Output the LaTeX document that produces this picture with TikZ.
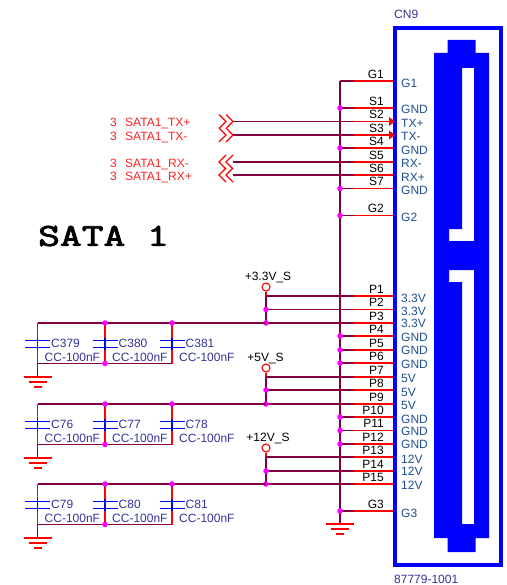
\documentclass[tikz,border=0pt]{standalone}
\usepackage{fontspec}
\setmainfont{Liberation Sans}
\newfontfamily\titlefont{Latin Modern Mono}[FakeBold=2.5]
\definecolor{wirec}{HTML}{800040}
\definecolor{stubc}{HTML}{FF0000}
\definecolor{bluec}{HTML}{0000FF}
\definecolor{dotc}{HTML}{FF00FF}
\definecolor{navyc}{HTML}{333399}
\definecolor{pinc}{HTML}{1F5090}
\definecolor{redt}{HTML}{FF2020}
\tikzset{
  wire/.style={draw=wirec,line width=1.1pt},
  stub/.style={draw=stubc,line width=1.1pt},
  plate/.style={draw=bluec,line width=1.4pt},
  pinname/.style={anchor=west,text=pinc,font=\fontsize{12}{14}\selectfont,inner sep=0pt},
  pinnum/.style={anchor=east,text=black,font=\fontsize{12}{14}\selectfont,inner sep=0pt},
  capname/.style={anchor=west,text=navyc,font=\fontsize{12}{14}\selectfont,inner sep=0pt},
  railname/.style={text=black,font=\fontsize{12}{14}\selectfont,inner sep=0pt},
  sig/.style={anchor=west,text=redt,font=\fontsize{12}{14}\selectfont,inner sep=0pt},
  junction/.style={circle,fill=dotc,inner sep=0pt,minimum size=5.6pt},
  railend/.style={circle,draw=stubc,line width=1.1pt,fill=white,inner sep=0pt,minimum size=8pt},
}
\newcommand{\gndsym}[1]{%
  \draw[stub] ([xshift=-14pt]#1) -- ([xshift=14pt]#1);
  \draw[stub] ([xshift=-9pt,yshift=-5pt]#1) -- ([xshift=9pt,yshift=-5pt]#1);
  \draw[stub] ([xshift=-4pt,yshift=-10pt]#1) -- ([xshift=4pt,yshift=-10pt]#1);
}
\begin{document}
\begin{tikzpicture}[x=1pt,y=-1pt]
\useasboundingbox (0,0) rectangle (506,585);
% connector body
\draw[draw=bluec,line width=4pt,fill=white] (395,28) rectangle (501,565);
\fill[bluec,even odd rule]
  (447.5,40) -- (475.5,40) -- (475.5,53) -- (489,53) -- (489,538) -- (475.5,538) -- (475.5,552) -- (447.5,552) -- (447.5,538) -- (434,538) -- (434,53) -- (447.5,53) -- cycle
  (462,68) -- (474,68) -- (474,241) -- (449,241) -- (449,229) -- (462,229) -- cycle
  (449,270) -- (474,270) -- (474,524) -- (462,524) -- (462,282) -- (449,282) -- cycle;
\node[anchor=west,text=navyc,font=\fontsize{12}{14}\selectfont,inner sep=0pt] (cn) at (394,14) {CN9};
\node[anchor=west,text=navyc,font=\fontsize{12}{14}\selectfont,inner sep=0pt] (pn) at (394,579) {87779-1001};
% bus
\coordinate (bustop) at (340,81);
\coordinate (busgnd) at (340,524);
\draw[wire] (bustop) -- (busgnd);
\gndsym{busgnd}
% pins
\foreach \id/\num/\name/\y/\yl in {
 G1/G1/G1/81/83, S1/S1/GND/108/109, S2/S2/TX+/121.5/123, S3/S3/TX-/135/136, S4/S4/GND/148/150,
 S5/S5/RX-/162/163, S6/S6/RX+/175/177, S7/S7/GND/188.5/190, G2/G2/G2/215.5/217,
 P1/P1/3.3V/296/298, P2/P2/3.3V/309.5/311, P3/P3/3.3V/323/323, P4/P4/GND/336/337.5, P5/P5/GND/350/350.5,
 P6/P6/GND/363/364.5, P7/P7/5V/377/378, P8/P8/5V/390/392, P9/P9/5V/404/405, P10/P10/GND/417/419,
 P11/P11/GND/430.5/431.5, P12/P12/GND/444/444.5, P13/P13/12V/457/459, P14/P14/12V/471/471, P15/P15/12V/484/485, G3/G3/G3/511/513}{
  \coordinate (w\id) at (354,\y);
  \coordinate (e\id) at (393,\y);
  \draw[stub] (w\id) -- (e\id);
  \node[pinnum] (n\id) at (384,\y-7) {\num};
  \node[pinname] (l\id) at (401,\yl) {\name};
}
% ground pins on the bus
\foreach \id in {G1,S1,S4,S7,G2,P4,P5,P6,P10,P11,P12,G3}{
  \draw[wire] (bustop |- w\id) -- (w\id);
}
\foreach \id in {S1,S4,S7,G2,P4,P5,P6,P10,P11,P12,G3}{
  \node[junction] (j\id) at (bustop |- w\id) {};
}
% drive arrows on TX pins
\foreach \id in {S2,S3}{
  \fill[stubc] ([xshift=-4pt,yshift=-4.5pt]e\id) -- ([xshift=2pt]e\id) -- ([xshift=-4pt,yshift=4.5pt]e\id) -- cycle;
}
% off-page signals
\foreach \id/\txt/\y in {S2/SATA1\_TX+/124,S3/SATA1\_TX-/137.5,S5/SATA1\_RX-/164.5,S6/SATA1\_RX+/177.5}{
  \coordinate (t\id) at (233,0 |- w\id);
  \draw[wire] (t\id) -- (w\id);
  \node[sig] (a\id) at (110,\y-1.5) {3};
  \node[sig] (b\id) at (125,\y) {\txt};
}
\foreach \id in {S2,S3}{
  \draw[stub] ([xshift=-14pt,yshift=-7pt]t\id) -- ([xshift=-7pt]t\id) -- ([xshift=-14pt,yshift=7pt]t\id);
  \draw[stub] ([xshift=-7pt,yshift=-7pt]t\id) -- (t\id) -- ([xshift=-7pt,yshift=7pt]t\id);
}
\foreach \id in {S5,S6}{
  \draw[stub] ([yshift=-7pt]t\id) -- ([xshift=-7pt]t\id) -- ([yshift=7pt]t\id);
  \draw[stub] ([xshift=-7pt,yshift=-7pt]t\id) -- ([xshift=-14pt]t\id) -- ([xshift=-7pt,yshift=7pt]t\id);
}
% title
\node[anchor=west,inner sep=0pt,xscale=1.32,transform shape,font=\titlefont\fontsize{32}{36}\selectfont] (title) at (38,236) {SATA 1};
% power groups
\foreach \g/\railname/\tx/\pa/\pb/\pc/\ca/\cb/\cc in {
  A/+3.3V\_S/268/P1/P2/P3/C379/C380/C381,
  B/+5V\_S/265.5/P7/P8/P9/C76/C77/C78,
  C/+12V\_S/268/P13/P14/P15/C79/C80/C81}{
  \coordinate (railpt\g) at (266,0 |- w\pc);
  \node[railend] (top\g) at ([yshift=36pt]railpt\g) {};
  \node[railname] (rail\g) at ([xshift=\tx pt-266pt,yshift=45.5pt]railpt\g) {\railname};
  \draw[stub] (top\g) -- ([yshift=27pt]railpt\g);
  \draw[wire] ([yshift=27pt]railpt\g) -- (railpt\g);
  \draw[wire] (railpt\g |- w\pa) -- (w\pa);
  \draw[wire] (railpt\g |- w\pb) -- (w\pb);
  \draw[wire] (railpt\g) -- (w\pc);
  \node[junction] at (railpt\g |- w\pb) {};
  \node[junction] at (railpt\g) {};
  \draw[wire] (37.5,0 |- railpt\g) -- (railpt\g);
  \foreach \cx/\cn/\k in {37.5/\ca/1,105/\cb/2,172/\cc/3}{
    \coordinate (cap\g\k) at (\cx,0 |- railpt\g);
    \draw[stub] (cap\g\k) -- ([yshift=-17pt]cap\g\k);
    \draw[stub] ([yshift=-25pt]cap\g\k) -- ([yshift=-40.5pt]cap\g\k);
    \draw[plate] ([xshift=-12.5pt,yshift=-17.5pt]cap\g\k) -- ([xshift=12.5pt,yshift=-17.5pt]cap\g\k);
    \draw[plate] ([xshift=-12.5pt,yshift=-24.5pt]cap\g\k) -- ([xshift=12.5pt,yshift=-24.5pt]cap\g\k);
    \draw[plate] ([yshift=-15pt]cap\g\k) -- ([yshift=-27pt]cap\g\k);
    \node[capname] (name\g\k) at ([xshift=13.5pt,yshift=-20pt]cap\g\k) {\cn};
    \node[capname] (val\g\k) at ([xshift=7pt,yshift=-34pt]cap\g\k) {CC-100nF};
  }
  \draw[wire] ([yshift=-40.5pt]cap\g1) -- ([yshift=-40.5pt]cap\g3);
  \coordinate (gnd\g) at ([yshift=-54pt]cap\g1);
  \draw[wire] ([yshift=-40.5pt]cap\g1) -- (gnd\g);
  \gndsym{gnd\g}
  \node[junction] at (cap\g2) {};
  \node[junction] at (cap\g3) {};
  \node[junction] at ([yshift=-40.5pt]cap\g2) {};
}
\end{tikzpicture}
\end{document}
